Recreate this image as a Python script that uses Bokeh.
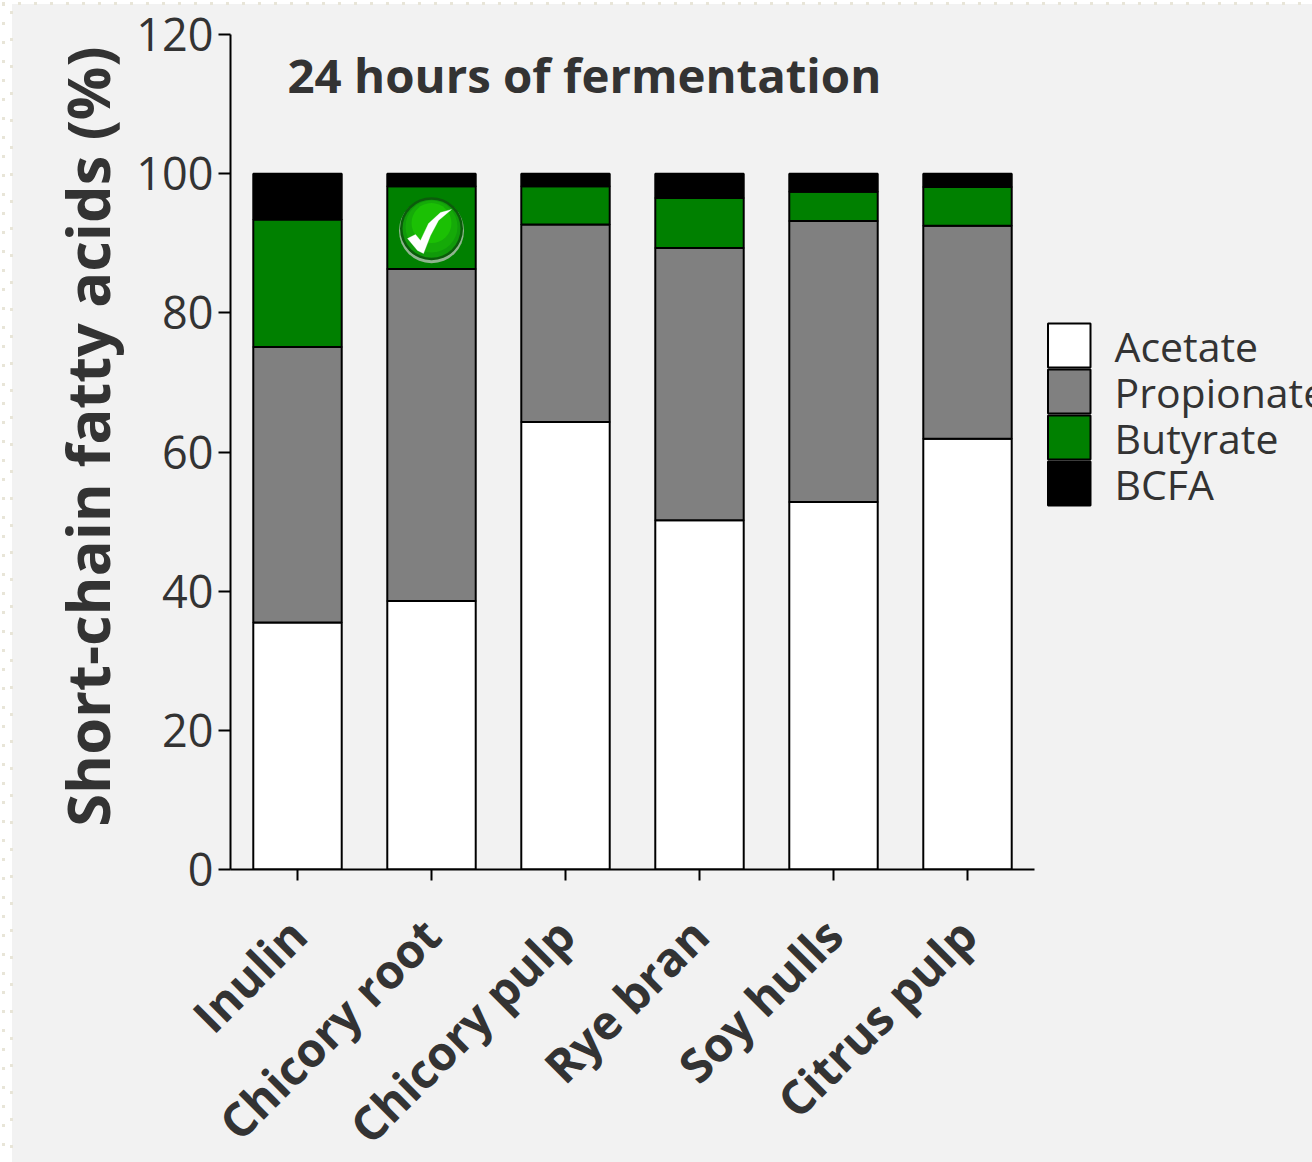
import math
from bokeh.plotting import figure
from bokeh.models import (Range1d, Label, BoxAnnotation, PolyAnnotation, FixedTicker)
from bokeh.embed import file_html
from bokeh.resources import INLINE

categories = ["Inulin", "Chicory root", "Chicory pulp", "Rye bran", "Soy hulls", "Citrus pulp"]
acetate = [35.5, 38.6, 64.3, 50.2, 52.8, 61.9]
propionate = [39.6, 47.7, 28.4, 39.1, 40.4, 30.6]
butyrate = [18.3, 11.9, 5.5, 7.2, 4.2, 5.6]
bcfa = [6.6, 1.8, 1.8, 3.5, 2.6, 1.9]
y_ticks = [0, 20, 40, 60, 80, 100, 120]
series_names = ["Acetate", "Propionate", "Butyrate", "BCFA"]
series_colors = ["#ffffff", "#808080", "#008000", "#000000"]
TITLE = "24 hours of fermentation"
YLABEL = "\u00a0\u00a0Short-chain fatty acids (%)"
INK = "#333333"
PANEL = "#f2f2f2"
DOT = "#e8e5d8"
SANS = "Open Sans"

W, H = 1312, 1162
L, T, B = 230, 34, 869
STEP = 134.0   # pixels per category
positions = [i + 0.5 for i in range(len(categories))]

def col(x, off):
    return (f"repeating-linear-gradient(to bottom, transparent 0 {off}px, {DOT} {off}px {off+3}px, "
            f"transparent {off+3}px {off+16}px) {x}px 0 / 3px 100% no-repeat")

page_bg = ", ".join([
    "repeating-linear-gradient(to right, transparent 0 2px, %s 2px 5px, transparent 5px 16px) 0 2px / 100%% 3px no-repeat" % DOT,
    col(2, 3), col(10, 11),
    f"linear-gradient({PANEL},{PANEL}) 12px 4px no-repeat",
    "#ffffff",
])

p = figure(width=W, height=H, output_backend="svg", toolbar_location=None,
           x_range=Range1d(0, (W - L) / STEP),
           y_range=Range1d(0, 120),
           frame_width=W - L, frame_height=B - T,
           min_border_left=L, min_border_right=0,
           min_border_top=T, min_border_bottom=H - B,
           styles={"background": page_bg})
p.border_fill_color = None
p.background_fill_color = None
p.outline_line_color = None
p.grid.visible = False

source = dict(x=positions, Acetate=acetate, Propionate=propionate, Butyrate=butyrate, BCFA=bcfa)
bars = p.vbar_stack(series_names, x="x", width=0.66, source=source, color=series_colors,
                    line_color="#000000", line_width=2)

# axes
ya = p.yaxis[0]
ya.ticker = FixedTicker(ticks=y_ticks)
ya.minor_tick_line_color = None
ya.major_tick_in = 0
ya.major_tick_out = 12
ya.major_tick_line_width = 2
ya.major_tick_line_color = "#000000"
ya.axis_line_color = "#000000"
ya.axis_line_width = 2
ya.major_label_text_font = SANS
ya.major_label_text_font_size = "45px"
ya.major_label_text_color = INK
ya.major_label_standoff = 5
ya.axis_label = YLABEL
ya.axis_label_text_font = SANS
ya.axis_label_text_font_style = "bold"
ya.axis_label_text_font_size = "59.5px"
ya.axis_label_text_color = INK
ya.axis_label_standoff = 6

xa = p.xaxis[0]
xa.ticker = FixedTicker(ticks=positions)
xa.major_label_overrides = {pos: name for pos, name in zip(positions, categories)}
xa.bounds = (0, len(categories))
xa.minor_tick_line_color = None
xa.major_tick_in = 0
xa.major_tick_out = 11
xa.major_tick_line_width = 2
xa.major_tick_line_color = "#000000"
xa.axis_line_color = "#000000"
xa.axis_line_width = 2
xa.major_label_orientation = math.pi / 4
xa.major_label_text_font = SANS
xa.major_label_text_font_style = "bold"
xa.major_label_text_font_size = "47px"
xa.major_label_text_color = INK
xa.major_label_standoff = 46

# title sits inside the plot frame
p.add_layout(Label(x=287 - L, y=B - 74, x_units="screen", y_units="screen", text=TITLE,
                   text_baseline="alphabetic",
                   text_font=SANS, text_font_style="bold", text_font_size="47.4px",
                   text_color=INK))

# legend: touching swatches on a tighter pitch than a Legend's rows allow
for i, (name, color) in enumerate(zip(series_names, series_colors)):
    top = 323 + 46 * i
    p.add_layout(BoxAnnotation(left=1047.5 - L, right=1090 - L, top=B - top, bottom=B - (top + 44),
                               left_units="screen", right_units="screen",
                               top_units="screen", bottom_units="screen",
                               fill_color=color, fill_alpha=1,
                               line_color="#000000", line_width=2, line_alpha=1))
    p.add_layout(Label(x=1114 - L, y=B - (345 + 46 * i), x_units="screen", y_units="screen",
                       text=name, text_baseline="alphabetic",
                       text_font=SANS, text_font_size="41px", text_color=INK))

# badge on the Chicory root bar
bx, by = positions[1], 92.1
p.scatter([bx], [by - 0.3], size=65, color="#8fb58f", line_color=None)
p.scatter([bx], [by], size=63, color="#0b5c0b", line_color=None)
p.scatter([bx], [by], size=58, color="#109a0a", line_color=None)
p.scatter([bx], [by + 0.3], size=52, color="#15aa08", line_color=None)
p.scatter([bx], [by + 0.8], size=40, color="#1bc004", line_color=None)
ck_x = [407, 415, 420, 428, 440, 451, 438, 430, 423, 417]
ck_y = [238, 234, 240, 223, 212, 209, 220, 235, 253, 250]
p.add_layout(PolyAnnotation(xs=[v - L for v in ck_x], ys=[B - v for v in ck_y],
                            xs_units="screen", ys_units="screen",
                            fill_color="#ffffff", fill_alpha=1, line_color="#ffffff", line_width=1))

open("out.html", "w").write(file_html(p, INLINE))
